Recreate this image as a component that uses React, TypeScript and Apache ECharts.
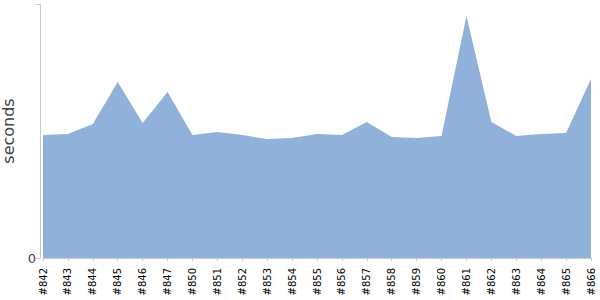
import React, { useEffect, useRef } from "react";
import * as echarts from "echarts";

const categories = ["#842","#843","#844","#845","#846","#847","#850","#851","#852","#853","#854","#855","#856","#857","#858","#859","#860","#861","#862","#863","#864","#865","#866"];
const durations = [61.5, 62, 67, 88, 67.5, 83, 61.5, 63, 61.5, 59.5, 60, 62, 61.5, 68, 60.5, 60, 61, 121, 68, 61, 62, 62.5, 89.5];
const yMax = 127;

export default function App() {
  const ref = useRef<HTMLDivElement>(null);
  useEffect(() => {
    const chart = echarts.init(ref.current!, null, { renderer: "svg" });
    chart.setOption({
      animation: false,
      grid: { left: 43, right: 9, top: 4, bottom: 42, outerBoundsMode: "none", containLabel: false },
      xAxis: {
        type: "category",
        data: categories,
        boundaryGap: false,
        offset: 5,
        axisLine: { lineStyle: { color: "#c8c8c8" } },
        axisTick: { show: true, length: 3, lineStyle: { color: "#c8c8c8" } },
        axisLabel: { rotate: 90, fontSize: 10, color: "#000", fontFamily: "DejaVu Sans", margin: 5, interval: 0 },
        splitLine: { show: false },
      },
      yAxis: {
        type: "value",
        min: 0,
        max: yMax,
        interval: yMax,
        offset: 3,
        name: "seconds",
        nameLocation: "middle",
        nameGap: 23,
        nameTextStyle: { fontSize: 16, color: "#444", fontFamily: "DejaVu Sans" },
        axisLine: { show: true, lineStyle: { color: "#c8c8c8" } },
        axisTick: { show: true, length: 4, lineStyle: { color: "#c8c8c8" } },
        axisLabel: { fontSize: 13, color: "#444", fontFamily: "DejaVu Sans", margin: 4, formatter: (v: number) => (v === 0 ? "0" : "") },
        splitLine: { show: false },
      },
      series: [
        {
          type: "line",
          data: durations,
          symbol: "none",
          lineStyle: { width: 0 },
          areaStyle: { color: "#8fb1da", opacity: 1 },
        },
      ],
    });
    return () => chart.dispose();
  }, []);
  return <div ref={ref} style={{ position: "fixed", left: 0, top: 0, width: 600, height: 300, background: "#fff" }} />;
}
